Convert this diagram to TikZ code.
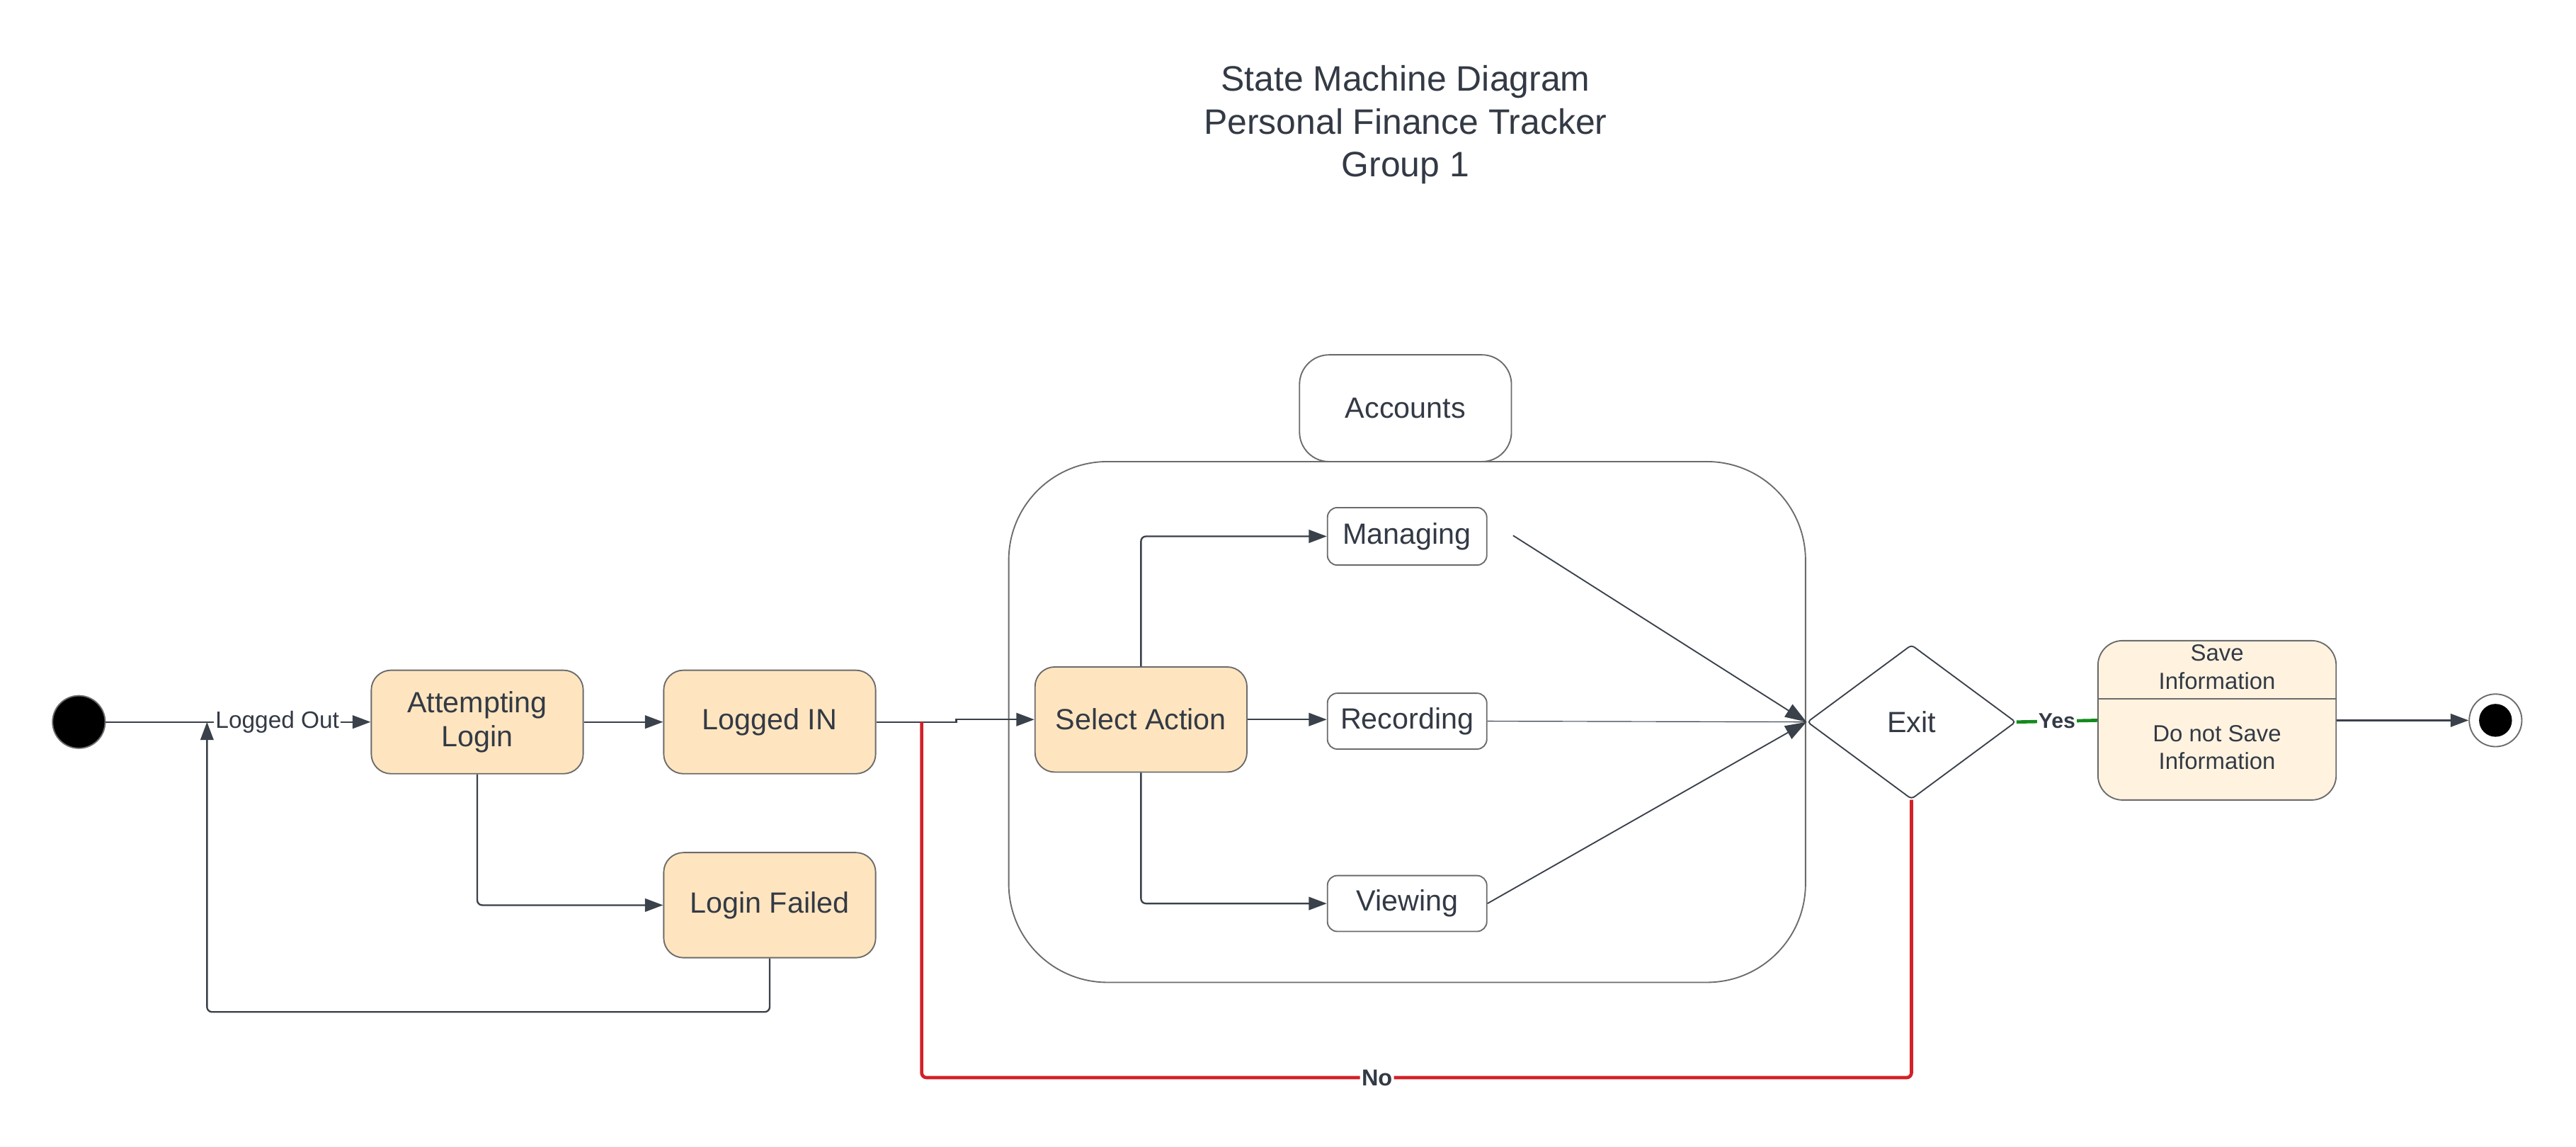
\documentclass[tikz,border=0pt]{standalone}
\usepackage{fontspec}
\setmainfont{Liberation Sans}
\usetikzlibrary{arrows.meta,shapes.geometric}
\definecolor{txt}{HTML}{333A45}
\definecolor{ln}{HTML}{3A414A}
\definecolor{bd}{HTML}{6B6B6B}
\definecolor{orangefill}{HTML}{FFE5BF}
\definecolor{savefill}{HTML}{FFF3E0}
\definecolor{nored}{HTML}{D42027}
\definecolor{yesgreen}{HTML}{138A1E}
\tikzset{
  statebox/.style={draw=bd, line width=0.8pt, fill=orangefill, rounded corners=12pt,
    minimum width=129pt, minimum height=63pt, inner sep=2pt, align=center,
    font=\fontsize{17.8}{21}\selectfont, text=txt},
  subbox/.style={draw=bd, line width=0.8pt, fill=white, rounded corners=6pt,
    minimum width=97pt, minimum height=34pt, inner sep=1pt,
    font=\fontsize{17.8}{21}\selectfont, text=txt},
  conn/.style={draw=ln, line width=1pt, -{Triangle[length=11pt,width=8pt]}},
  bigconn/.style={draw=ln, line width=0.8pt, -{Triangle[length=13pt,width=9pt]}},
  plainln/.style={draw=ln, line width=1pt},
  lbl/.style={fill=white, inner sep=1pt, text=txt},
}
\begin{document}
\begin{tikzpicture}[x=1pt,y=-1pt]
\useasboundingbox[fill=white] (0,0) rectangle (1568,698.2);

% title
\node[align=center, text=txt, font=\fontsize{21.5}{26}\selectfont] (title) at (855.5,76)
  {State Machine Diagram\\Personal Finance Tracker\\Group 1};

% composite state
\node[draw=bd, line width=0.8pt, rounded corners=60pt, minimum width=485pt, minimum height=317pt] (acc) at (856.5,439.5) {};
\node[draw=bd, line width=0.8pt, fill=white, rounded corners=18pt, minimum width=129pt, minimum height=65pt,
  font=\fontsize{17.8}{21}\selectfont, text=txt] (acclabel) at (855.5,248.5) {Accounts};

% states
\node[circle, fill=black, draw=bd, line width=0.8pt, minimum size=32pt, inner sep=0pt] (start) at (48,439.5) {};
\node[statebox] (attempt) at (290.5,439.5) {Attempting\\Login};
\node[statebox] (loggedin) at (468.5,439.5) {Logged IN};
\node[statebox, minimum height=64pt] (failed) at (468.5,551) {Login Failed};
\node[statebox, minimum height=64pt] (select) at (694.5,438) {Select Action};
\node[subbox, minimum height=35pt] (managing) at (856.5,326.5) {Managing};
\node[subbox] (recording) at (856.5,439) {Recording};
\node[subbox] (viewing) at (856.5,550) {Viewing};
\node[diamond, draw=ln, line width=0.8pt, rounded corners=2pt, minimum width=127pt, minimum height=94pt,
  inner sep=0pt, aspect=1.35, font=\fontsize{17.8}{21}\selectfont, text=txt] (exit) at (1163.5,439.5) {Exit};
\node[draw=bd, line width=0.8pt, fill=savefill, rounded corners=15pt, minimum width=145pt, minimum height=97pt] (save) at (1349.5,438.5) {};
\node[align=center, text=txt, font=\fontsize{14.2}{17}\selectfont] (savetop) at (1349.5,406) {Save\\Information};
\node[align=center, text=txt, font=\fontsize{14.2}{17}\selectfont] (savebot) at (1349.5,455) {Do not Save\\Information};
\coordinate (divy) at (0,425.5);
\draw[bd, line width=0.8pt] (save.west |- divy) -- (save.east |- divy);
\node[circle, draw=bd, fill=white, line width=0.8pt, minimum size=32pt, inner sep=0pt] (endst) at (1519,438.5) {};
\node[circle, fill=black, minimum size=20pt, inner sep=0pt] (enddot) at (endst) {};

% helper coordinates
\coordinate (loopin) at (126,439.5);
\coordinate (loopcorner) at (126,616);
\coordinate (jog1) at (582,439.5);
\coordinate (jog2) at (582,438);
\coordinate (nostart) at (561,439.5);
\coordinate (nocorner) at (561,656);
\coordinate (mstart) at (921,326);

% connectors
\draw[conn] (start.east) -- node[lbl, pos=0.648, font=\fontsize{14.4}{17}\selectfont] (lo) {Logged Out} (attempt.west);
\draw[conn] (attempt.east) -- (loggedin.west);
\draw[conn, rounded corners=3pt] (attempt.south) |- (failed.west);
\draw[conn, rounded corners=3pt] (failed.south) |- (loopcorner) -- (loopin);
\draw[conn] (loggedin.east) -- (jog1) -- (jog2) -- (select.west);
\draw[nored, line width=2pt, rounded corners=3pt] (nostart) -- (nocorner) -| node[lbl, pos=0.23, font=\bfseries\fontsize{14}{17}\selectfont] (nolbl) {No} (exit.south);
\draw[conn, rounded corners=3pt] (select.north) |- (managing.west);
\draw[conn] (select.east) -- (select.east -| recording.west);
\draw[conn, rounded corners=3pt] (select.south) |- (viewing.west);
\draw[bigconn] (mstart) -- (exit.west);
\draw[plainln, line width=0.5pt] (recording.east) -- (exit.west);
\draw[bigconn] (viewing.east) -- (exit.west);
\draw[yesgreen, line width=2pt] (exit.east) -- node[lbl, font=\bfseries\fontsize{13}{16}\selectfont] (yeslbl) {Yes} (save.west);
\draw[conn] (save.east) -- (endst.west);
\end{tikzpicture}
\end{document}
